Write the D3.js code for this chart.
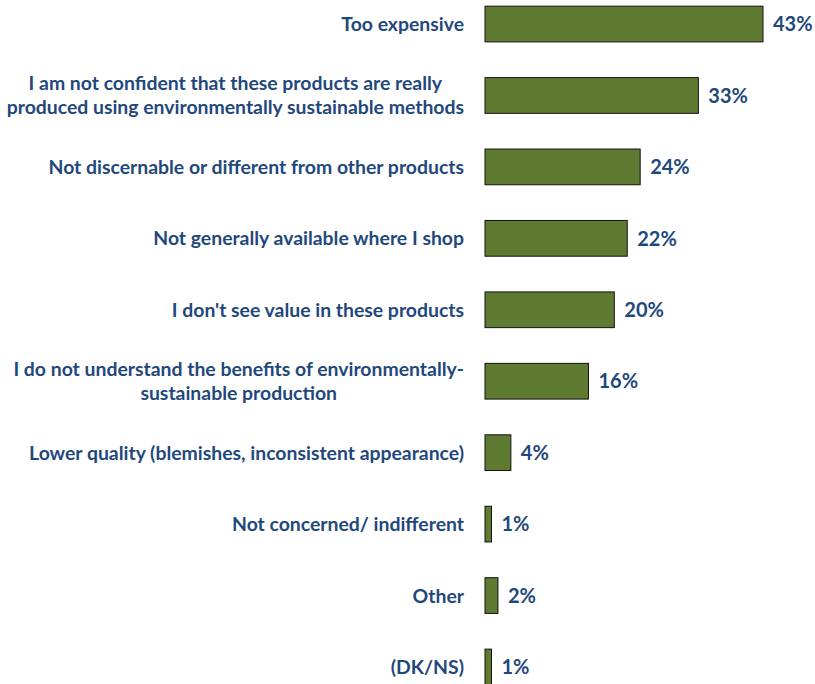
<!DOCTYPE html>
<html>
<head>
<meta charset="utf-8">
<script src="https://cdn.jsdelivr.net/npm/d3@7"></script>
<style>
  html, body { margin: 0; padding: 0; background: #fff; }
  svg { display: block; }
  text { font-family: Lato, "Open Sans", sans-serif; font-weight: 700; fill: #1F487C; }
</style>
</head>
<body>
<svg id="chart" width="815" height="684"></svg>
<script>
// Reasons for not buying environmentally sustainable products (% of respondents)
const categories = [
  ["Too expensive"],
  ["I am not confident that these products are really", "produced using environmentally sustainable methods"],
  ["Not discernable or different from other products"],
  ["Not generally available where I shop"],
  ["I don't see value in these products"],
  ["I do not understand the benefits of environmentally-", "sustainable production"],
  ["Lower quality (blemishes, inconsistent appearance)"],
  ["Not concerned/ indifferent"],
  ["Other"],
  ["(DK/NS)"]
];
const values = [43, 33, 24, 22, 20, 16, 4, 1, 2, 1];
const valueLabels = ["43%", "33%", "24%", "22%", "20%", "16%", "4%", "1%", "2%", "1%"];

const svg = d3.select("#chart");
const ids = d3.range(values.length);

const x = d3.scaleLinear().domain([0, 43]).range([485, 763]);
const y = d3.scaleBand().domain(ids).range([-11.7, 702.7]).paddingInner(0.5).paddingOuter(0.25);

// bars
svg.append("g").selectAll("rect").data(ids).join("rect")
  .attr("x", x(0))
  .attr("y", i => y(i))
  .attr("width", i => x(values[i]) - x(0))
  .attr("height", y.bandwidth())
  .attr("fill", "#5F7B31")
  .attr("stroke", "#111")
  .attr("stroke-width", 1);

// value labels
svg.append("g").selectAll("text").data(ids).join("text")
  .attr("x", i => x(values[i]) + 10)
  .attr("y", i => y(i) + y.bandwidth() / 2)
  .attr("dy", "0.36em")
  .style("font-size", "20px")
  .text(i => valueLabels[i]);

// category labels (wrapped labels are centred as a block, block right-aligned)
const labelRight = 464;
const lineH = 24;
const lg = svg.append("g");
ids.forEach(i => {
  const lines = categories[i];
  const cy = y(i) + y.bandwidth() / 2;
  const t = lg.append("text").style("font-size", "19.4px");
  const spans = lines.map((ln, k) => t.append("tspan")
    .attr("y", cy + (k - (lines.length - 1) / 2) * lineH)
    .attr("dy", "0.36em")
    .text(ln));
  if (lines.length === 1) {
    t.attr("text-anchor", "end");
    spans[0].attr("x", labelRight);
  } else {
    const w = d3.max(spans, s => s.node().getComputedTextLength());
    t.attr("text-anchor", "middle");
    spans.forEach(s => s.attr("x", labelRight - w / 2));
  }
});
</script>
</body>
</html>
